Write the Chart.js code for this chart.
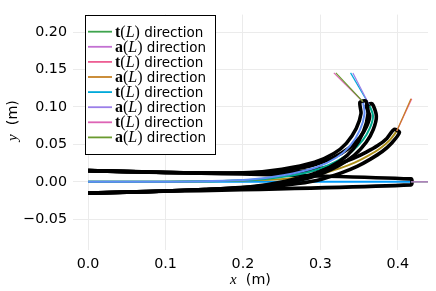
<!DOCTYPE html>
<html><head><meta charset="utf-8">
<script src="https://cdn.jsdelivr.net/npm/chart.js@4.4.0/dist/chart.umd.min.js"></script>
<style>html,body{margin:0;padding:0;background:#fff;}canvas{display:block;}</style>
</head><body>
<canvas id="c" width="436" height="291"></canvas>
<script>
// ---- axis ticks ----
const xTickValues = [0, 0.1, 0.2, 0.3, 0.4];
const xTickLabels = ['0.0', '0.1', '0.2', '0.3', '0.4'];
const yTickValues = [-0.05, 0, 0.05, 0.10, 0.15, 0.20];
const yTickLabels = ['\u22120.05', '0.00', '0.05', '0.10', '0.15', '0.20'];

// ---- legend labels (t / a tip directions for each of the 4 rods) ----
const directionLabels = ['t(L) direction', 'a(L) direction',
  't(L) direction', 'a(L) direction',
  't(L) direction', 'a(L) direction',
  't(L) direction', 'a(L) direction'];

// ---- rod 1 (straight) ----
const rod1Center = [[0, 0], [0.417, 0]];
const rod1Outline = [[0, 0.015], [0.417, 0.004], [0.417, -0.004], [0, -0.015]];
const rod1T = [[0.417, 0], [0.467, 0]];
const rod1A = [[0.417, 0], [0.467, 0]];

// ---- rod 2 ----
const rod2Center = [[0, 0], [0.05, 0], [0.10, 0.0002], [0.15, 0.0007], [0.20, 0.0018], [0.24, 0.003],
  [0.27, 0.0055], [0.30, 0.0105], [0.325, 0.018], [0.345, 0.026], [0.362, 0.035], [0.377, 0.0445],
  [0.389, 0.055], [0.3987, 0.068]];
const rod2Outline = [[0, 0.015], [0.05, 0.0137], [0.0999, 0.0126], [0.1498, 0.0117], [0.1997, 0.0115],
  [0.2395, 0.0117], [0.269, 0.0133], [0.2984, 0.0174], [0.3229, 0.024], [0.3426, 0.0313], [0.3593, 0.0396],
  [0.3741, 0.0484], [0.3858, 0.058], [0.3953, 0.0701],
  [0.4021, 0.0659], [0.3922, 0.052], [0.3799, 0.0406], [0.3647, 0.0304], [0.3475, 0.0207], [0.3271, 0.012],
  [0.3016, 0.0036], [0.271, -0.0023], [0.2405, -0.0057], [0.2003, -0.0079], [0.1502, -0.0103],
  [0.1001, -0.0122], [0.05, -0.0137], [0, -0.015]];
const rod2T = [[0.3987, 0.068], [0.418, 0.111]];
const rod2A = [[0.3987, 0.068], [0.417, 0.111]];

// ---- rod 3 ----
const rod3Center = [[0, 0], [0.05, 0], [0.10, 0.0002], [0.15, 0.0007], [0.20, 0.002], [0.25, 0.0065],
  [0.29, 0.0145], [0.32, 0.027], [0.34, 0.040], [0.355, 0.056], [0.364, 0.072], [0.368, 0.088], [0.363, 0.103]];
const rod3Outline = [[0, 0.015], [0.05, 0.0137], [0.1, 0.0126], [0.1498, 0.0117], [0.1994, 0.0117],
  [0.2488, 0.0148], [0.2879, 0.0215], [0.317, 0.0327], [0.3363, 0.0445], [0.3508, 0.0591], [0.3596, 0.0738],
  [0.3637, 0.0881], [0.3592, 0.1018],
  [0.3668, 0.1042], [0.3723, 0.0879], [0.3684, 0.0702], [0.3592, 0.0529], [0.3437, 0.0355], [0.323, 0.0213],
  [0.2921, 0.0075], [0.2512, -0.0018], [0.2006, -0.0077], [0.1502, -0.0103], [0.1, -0.0122],
  [0.05, -0.0137], [0, -0.015]];
const rod3T = [[0.363, 0.103], [0.339, 0.1455]];
const rod3A = [[0.363, 0.103], [0.342, 0.1455]];

// ---- rod 4 ----
const rod4Center = [[0, 0], [0.05, 0], [0.10, 0.0002], [0.15, 0.0008], [0.209, 0.003], [0.252, 0.0087],
  [0.295, 0.0195], [0.321, 0.0325], [0.338, 0.0477], [0.351, 0.0692], [0.357, 0.0909], [0.355, 0.107]];
const rod4Outline = [[0, 0.015], [0.05, 0.0137], [0.1, 0.0126], [0.1497, 0.0118], [0.2082, 0.0125],
  [0.2504, 0.0169], [0.2925, 0.0262], [0.3174, 0.0378], [0.3335, 0.0514], [0.3463, 0.0712], [0.3525, 0.0912],
  [0.3511, 0.1063],
  [0.3589, 0.1077], [0.3615, 0.0906], [0.3557, 0.0672], [0.3425, 0.044], [0.3246, 0.0272], [0.2975, 0.0128],
  [0.2536, 0.0005], [0.2098, -0.0065], [0.1503, -0.0102], [0.1, -0.0122], [0.05, -0.0137], [0, -0.015]];
const rod4T = [[0.355, 0.107], [0.3174, 0.1455]];
const rod4A = [[0.355, 0.107], [0.320, 0.1455]];

// ---- build datasets ----
const toXY = arr => arr.map(p => ({x: p[0], y: p[1]}));
const rods = [
  {c: rod1Center, o: rod1Outline, t: rod1T, a: rod1A, cc: '#009AFA', tc: '#3EA44E', ac: '#C371D2'},
  {c: rod2Center, o: rod2Outline, t: rod2T, a: rod2A, cc: '#AC8E18', tc: '#ED5E93', ac: '#C68225'},
  {c: rod3Center, o: rod3Outline, t: rod3T, a: rod3A, cc: '#00A98D', tc: '#00A9DA', ac: '#9B7FE9'},
  {c: rod4Center, o: rod4Outline, t: rod4T, a: rod4A, cc: '#618DF6', tc: '#DD64B5', ac: '#6A9A2F'}
];
const datasets = [];
rods.forEach((r, i) => {
  datasets.push({label: '', data: toXY(r.c), borderColor: r.cc, borderWidth: 2, tension: 0.3});
  datasets.push({label: '', data: toXY(r.o), borderColor: '#000', borderWidth: 3.6, tension: 0.25,
    borderJoinStyle: 'miter'});
  datasets.push({label: directionLabels[2 * i], data: toXY(r.t), borderColor: r.tc, borderWidth: 1.2, tension: 0});
  datasets.push({label: directionLabels[2 * i + 1], data: toXY(r.a), borderColor: r.ac, borderWidth: 1.2, tension: 0});
});
datasets.forEach((d, i) => {
  d.showLine = true; d.pointRadius = 0; d.pointHoverRadius = 0; d.fill = false;
  d.order = datasets.length - i;
});

function drawMathLabel(ctx, label, x, yBase) {
  const m = label.match(/^(\w)\((\w)\)(.*)$/);
  const parts = m ? [
    [m[1], 'bold 16px "Liberation Serif"'],
    ['(', '16px "Liberation Serif"'],
    [m[2], 'italic 16px "Liberation Serif"'],
    [')', '16px "Liberation Serif"'],
    [m[3], '13.5px "DejaVu Sans"']
  ] : [[label, '13.5px "DejaVu Sans"']];
  ctx.textAlign = 'left';
  ctx.textBaseline = 'alphabetic';
  ctx.fillStyle = '#000';
  let cx = x;
  parts.forEach(([txt, font]) => {
    ctx.font = font;
    ctx.fillText(txt, cx, yBase);
    cx += ctx.measureText(txt).width;
  });
}

const overlayPlugin = {
  id: 'overlay',
  afterDraw(chart) {
    const ctx = chart.ctx;
    ctx.save();
    // legend
    const items = chart.data.datasets.filter(d => d.label);
    ctx.fillStyle = '#fff';
    ctx.fillRect(85.5, 15.5, 130, 139);
    ctx.strokeStyle = '#000';
    ctx.lineWidth = 1;
    ctx.strokeRect(85.5, 15.5, 130, 139);
    items.forEach((d, i) => {
      const y = 31.7 + i * 15.1;
      ctx.strokeStyle = d.borderColor;
      ctx.lineWidth = 1.8;
      ctx.beginPath(); ctx.moveTo(88, y); ctx.lineTo(112, y); ctx.stroke();
      drawMathLabel(ctx, d.label, 115, y + 5);
    });
    // axis titles
    const ca = chart.chartArea;
    const drawTitle = (sym, unit, cxm, base) => {
      ctx.font = 'italic 15px "Liberation Serif"';
      const w1 = ctx.measureText(sym).width;
      ctx.font = '14.3px "DejaVu Sans"';
      const w2 = ctx.measureText('  ' + unit).width;
      const start = cxm - (w1 + w2) / 2;
      ctx.textBaseline = 'alphabetic';
      ctx.textAlign = 'left';
      ctx.fillStyle = '#000';
      ctx.font = 'italic 15px "Liberation Serif"';
      ctx.fillText(sym, start, base);
      ctx.font = '14.3px "DejaVu Sans"';
      ctx.fillText('  ' + unit, start + w1, base);
    };
    drawTitle('x', '(m)', (ca.left + ca.right) / 2, 283.5);
    ctx.save();
    ctx.translate(16.5, 120.5);
    ctx.rotate(-Math.PI / 2);
    drawTitle('y', '(m)', 0, 0);
    ctx.restore();
    ctx.restore();
  }
};

new Chart(document.getElementById('c'), {
  type: 'scatter',
  data: {datasets},
  options: {
    responsive: false,
    animation: false,
    devicePixelRatio: 1,
    layout: {padding: {left: 0, right: 8, top: 7, bottom: 0}},
    plugins: {legend: {display: false}, tooltip: {enabled: false}, title: {display: false}},
    scales: {
      x: {
        type: 'linear', min: -0.0195, max: 0.439,
        afterBuildTicks: s => { s.ticks = xTickValues.map(v => ({value: v})); },
        afterFit: s => { s.height = 41; },
        grid: {color: '#ebebeb', lineWidth: 1, drawTicks: false},
        border: {display: false},
        ticks: {padding: 6, color: '#000', font: {family: 'DejaVu Sans', size: 14.3}, maxRotation: 0,
          callback: (v, i) => xTickLabels[i]}
      },
      y: {
        type: 'linear', min: -0.091, max: 0.2234,
        afterBuildTicks: s => { s.ticks = yTickValues.map(v => ({value: v})); },
        afterFit: s => { s.width = 73; },
        grid: {color: '#ebebeb', lineWidth: 1, drawTicks: false},
        border: {display: false},
        ticks: {padding: 6, color: '#000', font: {family: 'DejaVu Sans', size: 14.3},
          callback: (v, i) => yTickLabels[i]}
      }
    }
  },
  plugins: [overlayPlugin]
});
</script>
</body></html>
